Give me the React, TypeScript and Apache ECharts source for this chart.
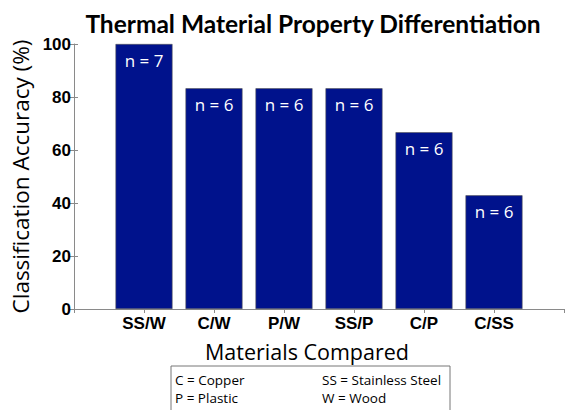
import React, { useEffect, useRef } from "react";
import * as echarts from "echarts";

const categories = ["SS/W", "C/W", "P/W", "SS/P", "C/P", "C/SS"];
const accuracy = [100, 83.3, 83.3, 83.3, 66.7, 42.9];
const sampleLabels = ["n = 7", "n = 6", "n = 6", "n = 6", "n = 6", "n = 6"];
const yTicks = [0, 20, 40, 60, 80, 100];
const legendLeft = ["C = Copper", "P = Plastic"];
const legendRight = ["SS = Stainless Steel", "W = Wood"];

export default function App() {
  const ref = useRef<HTMLDivElement>(null);
  useEffect(() => {
    if (!ref.current) return;
    const chart = echarts.init(ref.current, undefined, { renderer: "svg" });
    const axisGrey = "#8a8a8a";
    const data = accuracy.map((v, i) => [i + 1, v]);
    chart.setOption({
      animation: false,
      backgroundColor: "#ffffff",
      title: {
        text: "Thermal Material Property Differentiation",
        left: 308,
        top: 6,
        textAlign: "center",
        textStyle: { fontFamily: "Lato", fontWeight: "bold", fontSize: 24.5, color: "#000" },
      },
      grid: { left: 74, right: -3, top: 44, bottom: 101 },
      xAxis: [
        {
          type: "value",
          min: 0,
          max: 7,
          interval: 1,
          position: "bottom",
          axisLine: { show: true, lineStyle: { color: axisGrey } },
          axisTick: { show: false },
          splitLine: { show: false },
          axisLabel: {
            formatter: (v: number) => categories[v - 1] ?? "",
            fontFamily: "Liberation Sans",
            fontWeight: "bold",
            fontSize: 17,
            color: "#000",
            margin: 6,
          },
          name: "Materials Compared",
          nameLocation: "middle",
          nameGap: 31,
          nameTextStyle: { fontFamily: "Open Sans", fontSize: 21.5, color: "#000", padding: [0, 24, 0, 0] },
        },
        {
          type: "value",
          min: 0,
          max: 7,
          interval: 1,
          position: "top",
          axisLine: { show: true, lineStyle: { color: axisGrey } },
          axisTick: { show: true, inside: true, length: 4, lineStyle: { color: axisGrey } },
          axisLabel: { show: false },
          splitLine: { show: false },
        },
      ],
      yAxis: [
        {
          type: "value",
          min: 0,
          max: 100,
          interval: 20,
          axisLine: { show: true, lineStyle: { color: axisGrey } },
          axisTick: { show: true, inside: true, length: 4, lineStyle: { color: axisGrey } },
          splitLine: { show: false },
          axisLabel: {
            formatter: (v: number) => (yTicks.includes(v) ? String(v) : ""),
            fontFamily: "Liberation Sans",
            fontWeight: "bold",
            fontSize: 17,
            color: "#000",
            margin: 3,
          },
          name: "Classification Accuracy (%)",
          nameLocation: "middle",
          nameGap: 41,
          nameTextStyle: { fontFamily: "Open Sans", fontSize: 22.5, color: "#000" },
        },
        {
          type: "value",
          min: 0,
          max: 100,
          interval: 20,
          position: "right",
          axisLine: { show: false },
          axisTick: { show: true, inside: true, length: 4, lineStyle: { color: axisGrey } },
          axisLabel: { show: false },
          splitLine: { show: false },
        },
      ],
      series: [
        {
          type: "bar",
          xAxisIndex: 0,
          yAxisIndex: 0,
          data,
          barWidth: 57,
          itemStyle: { color: "#00128c", borderColor: "#555", borderWidth: 0.6 },
          label: {
            show: true,
            position: "insideTop",
            distance: 8,
            formatter: (p: any) => sampleLabels[p.dataIndex],
            fontFamily: "Open Sans",
            fontSize: 17,
            color: "#ffffff",
          },
        },
      ],
      graphic: [
        {
          type: "rect",
          shape: { x: 171, y: 366, width: 279, height: 60 },
          style: { fill: "#fff", stroke: "#777", lineWidth: 1 },
        },
        ...legendLeft.map((t, i) => ({
          type: "text",
          x: 175,
          y: 380 + i * 18,
          style: { text: t, fontFamily: "Open Sans", fontSize: 13.5, fill: "#000", textVerticalAlign: "middle" },
        })),
        ...legendRight.map((t, i) => ({
          type: "text",
          x: 322,
          y: 380 + i * 18,
          style: { text: t, fontFamily: "Open Sans", fontSize: 13.5, fill: "#000", textVerticalAlign: "middle" },
        })),
      ],
    });
    return () => chart.dispose();
  }, []);
  return (
    <div
      ref={ref}
      style={{ width: 567, height: 410, position: "fixed", left: 0, top: 0 }}
    />
  );
}
